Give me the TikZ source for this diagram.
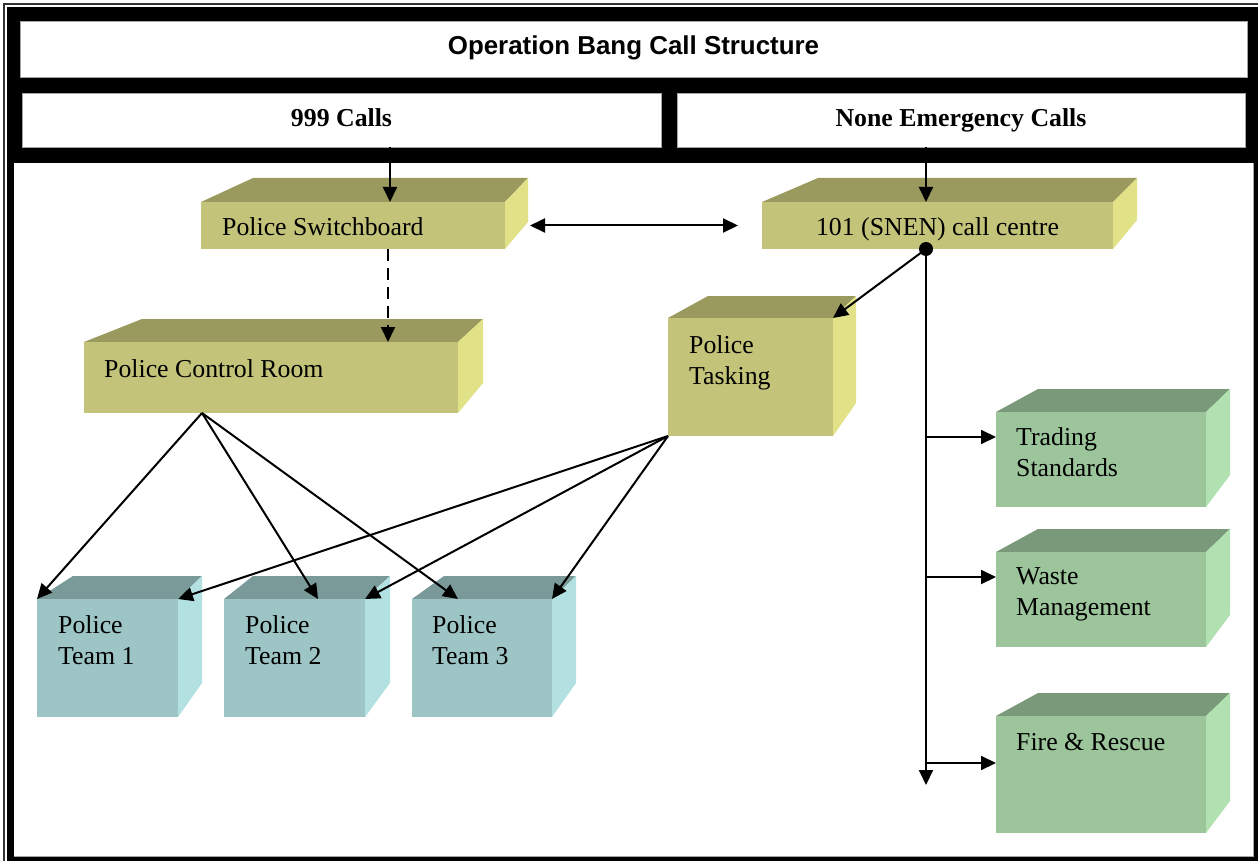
\documentclass[tikz,border=0pt]{standalone}
\usepackage{fontspec}
\setmainfont{Liberation Serif}
\newfontfamily\arialfont{Liberation Sans}
\usetikzlibrary{arrows.meta}
\definecolor{olF}{RGB}{195,195,122}
\definecolor{olT}{RGB}{154,154,94}
\definecolor{olS}{RGB}{225,225,136}
\definecolor{tlF}{RGB}{157,197,197}
\definecolor{tlT}{RGB}{122,153,153}
\definecolor{tlS}{RGB}{179,225,225}
\definecolor{gnF}{RGB}{156,197,156}
\definecolor{gnT}{RGB}{122,152,122}
\definecolor{gnS}{RGB}{177,225,177}
\definecolor{hair}{RGB}{165,165,165}
\newcommand{\boxfam}{ol}
% #1 name, #2 x1, #3 y1, #4 x2, #5 y2 (front face), #6 back-left x, #7 back y, #8 back-right x, #9 right-lower y
\newcommand{\mycube}[9]{%
  \fill[\boxfam T] (#2,#3) -- (#6,#7) -- (#8,#7) -- (#4,#3) -- cycle;
  \fill[\boxfam S] (#4,#3) -- (#8,#7) -- (#8,#9) -- (#4,#5) -- cycle;
  \node[fill=\boxfam F, draw=none, inner sep=0pt, outer sep=0pt,
        minimum width={(#4-#2)*1pt}, minimum height={(#5-#3)*1pt}]
        (#1) at ({(#2+#4)/2},{(#3+#5)/2}) {};%
}
\tikzset{
  lbl/.style={font=\fontsize{25.8}{31}\selectfont, inner sep=0pt, align=left},
  hdr/.style={font=\fontsize{25.8}{31}\selectfont\bfseries, fill=white, draw=hair, line width=0.8pt, inner sep=0pt, text height=18pt, text depth=5pt},
  arr/.style={line width=2pt, -{Triangle[length=15pt,width=14pt]}},
  dbl/.style={line width=2pt, {Triangle[length=15pt,width=14pt]}-{Triangle[length=15pt,width=14pt]}},
  dot/.style={circle, fill=black, inner sep=0pt, minimum size=14pt},
}
\begin{document}
\begin{tikzpicture}[x=1pt,y=-1pt]
\useasboundingbox (0,0) rectangle (1258,861);
% frame
\fill[white] (0,0) rectangle (1258,861);
\draw[line width=1.5pt, black!80] (4,861) -- (4,4) -- (1258,4);
\fill[black] (7,7) rectangle (1258,861);
\node[hdr, minimum width=1227pt, minimum height=56pt, text depth=6pt, font=\arialfont\fontsize{25.9}{31}\selectfont\bfseries]
  (title) at (633.5,49) {Operation Bang Call Structure};
\node[hdr, minimum width=639pt, minimum height=54pt] (c999) at (341.5,120) {999 Calls};
\node[hdr, minimum width=568pt, minimum height=54pt] (cne) at (961,120) {None Emergency Calls};
\fill[white] (14,163) rectangle (1253,856);
\draw[hair, line width=0.8pt] (14,856) -- (1253,856) -- (1253,163);

% boxes
\renewcommand{\boxfam}{ol}
\mycube{sw}{201}{202}{505}{249}{253}{178}{528}{222}
\mycube{cc}{762}{202}{1113}{249}{818}{178}{1137}{220}
\mycube{cr}{84}{342}{458}{413}{142}{319}{483}{383}
\mycube{pt}{668}{318}{833}{436}{708}{296}{856}{403}
\renewcommand{\boxfam}{tl}
\mycube{t1}{37}{599}{178}{717}{73}{576}{202}{683}
\mycube{t2}{224}{599}{365}{717}{253}{576}{390}{683}
\mycube{t3}{412}{599}{552}{717}{444}{576}{576}{683}
\renewcommand{\boxfam}{gn}
\mycube{ts}{996}{412}{1206}{507}{1038}{389}{1230}{475}
\mycube{wm}{996}{552}{1206}{647}{1038}{529}{1230}{615}
\mycube{fr}{996}{716}{1206}{833}{1038}{693}{1230}{801}

% labels
\node[lbl, anchor=base west] (swt) at (222,236) {Police Switchboard};
\node[lbl, anchor=base] (cct) at (937.5,236) {101 (SNEN) call centre};
\node[lbl, anchor=base west] (crt) at (104,377) {Police Control Room};
\node[lbl, anchor=north west] (ptt) at (689,335.4) {Police\\Tasking};
\node[lbl, anchor=north west] (t1t) at (58,615.4) {Police\\Team 1};
\node[lbl, anchor=north west] (t2t) at (245,615.4) {Police\\Team 2};
\node[lbl, anchor=north west] (t3t) at (432,615.4) {Police\\Team 3};
\node[lbl, anchor=north west] (tst) at (1016,427.4) {Trading\\Standards};
\node[lbl, anchor=north west] (wmt) at (1016,567.9) {Waste\\Management};
\node[lbl, anchor=base west] (frt) at (1016,750) {Fire \& Rescue};

% connectors
\coordinate (swin) at ([xshift=37pt]sw.north);
\draw[arr] (c999.south -| swin) -- (swin);
\node[dot] (dot) at ([xshift=-11.5pt]cc.south) {};
\draw[arr] (cne.south -| dot) -- (cc.north -| dot);
\draw[dbl] ([xshift=25pt]sw.east) -- ([xshift=-24pt]cc.west);
\draw[arr, dash pattern=on 12pt off 7pt] ([xshift=35pt]sw.south) -- ([xshift=35pt]sw.south |- cr.north);
\draw[arr] (dot.center) -- (pt.north east);
\coordinate (vend) at (926,785);
\draw[arr] (dot.center) -- (dot |- vend);
\coordinate (tsin) at ([yshift=22.5pt]ts.west);
\coordinate (wmin) at ([yshift=22.5pt]wm.west);
\coordinate (frin) at ([yshift=11.5pt]fr.west);
\draw[arr] (dot |- tsin) -- (tsin);
\draw[arr] (dot |- wmin) -- (wmin);
\draw[arr] (dot |- frin) -- (frin);
\coordinate (crout) at ([xshift=-69pt]cr.south);
\draw[arr] (crout) -- (t1.north west);
\draw[arr] (crout) -- ([xshift=23.5pt]t2.north);
\draw[arr] (crout) -- ([xshift=-24pt]t3.north);
\draw[arr] (pt.south west) -- (t1.north east);
\draw[arr] (pt.south west) -- (t2.north east);
\draw[arr] (pt.south west) -- (t3.north east);
\end{tikzpicture}
\end{document}
